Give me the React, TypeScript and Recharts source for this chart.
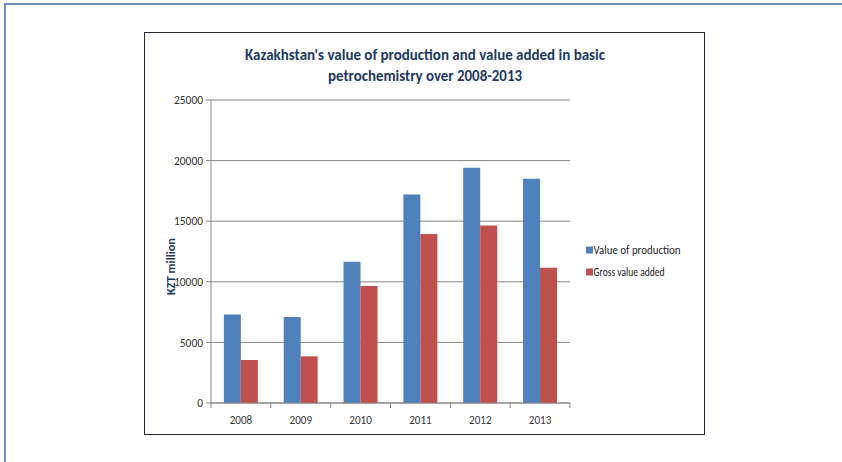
import React from 'react';
import { BarChart, Bar, XAxis, YAxis, CartesianGrid, Legend } from 'recharts';

const years = ['2008', '2009', '2010', '2011', '2012', '2013'];
const valueOfProduction = [7300, 7100, 11650, 17200, 19400, 18500];
const grossValueAdded = [3550, 3850, 9650, 13950, 14650, 11150];
const yTicks = [0, 5000, 10000, 15000, 20000, 25000];
const titleLines = ["Kazakhstan's value of production and value added in basic", 'petrochemistry over 2008-2013'];
const yAxisTitle = 'KZT million';
const seriesKeys = ['production', 'gva'];
const seriesNames = { production: 'Value of production', gva: 'Gross value added' };

const data = years.map((year, i) => ({
  year,
  production: valueOfProduction[i],
  gva: grossValueAdded[i],
}));

const FONT = "Carlito, Calibri, Lato, 'Liberation Sans', sans-serif";
const GRID = '#868686';
const NAVY = '#1F3864';
const BLUE = '#4F81BD';
const RED = '#C0504D';
const TICK_SIZE = 5;
const TICK_MARGIN = 7;

const XTick = (props: any) => {
  const { x, y, payload, index, visibleTicksCount, width } = props;
  const half = payload && payload.offset != null ? payload.offset : width / (2 * (visibleTicksCount || years.length));
  const axisY = y - TICK_SIZE - TICK_MARGIN;
  const last = index === (visibleTicksCount || years.length) - 1;
  return (
    <g>
      <line x1={x - half} x2={x - half} y1={axisY} y2={axisY + TICK_SIZE} stroke={GRID} />
      {last && <line x1={x + half} x2={x + half} y1={axisY} y2={axisY + TICK_SIZE} stroke={GRID} />}
      <text x={x} y={y} dy="0.71em" textAnchor="middle" fill="#333333" fontSize={12} fontFamily={FONT} textLength={22.5} lengthAdjust="spacingAndGlyphs">
        {payload.value}
      </text>
    </g>
  );
};

const YTick = (props: any) => {
  const { x, y, payload } = props;
  const s = String(payload.value);
  return (
    <text x={x} y={y} dy="0.355em" textAnchor="end" fill="#333333" fontSize={12} fontFamily={FONT} textLength={s.length * 5.8} lengthAdjust="spacingAndGlyphs">
      {s}
    </text>
  );
};

const YLabel = (props: any) => {
  const vb = props.viewBox || { x: 151, y: 100, width: 60, height: 303 };
  const cx = vb.x + 20;
  const cy = vb.y + vb.height / 2 + 15;
  return (
    <text
      x={cx}
      y={cy}
      transform={`rotate(-90, ${cx}, ${cy})`}
      textAnchor="middle"
      dominantBaseline="central"
      fill={NAVY}
      fontWeight="bold"
      fontSize={12}
      fontFamily={FONT}
      textLength={57}
      lengthAdjust="spacingAndGlyphs"
    >
      {yAxisTitle}
    </text>
  );
};

const LegendContent = (props: any) => {
  const raw = props.payload || [];
  const items = [...raw].sort((a: any, b: any) => seriesKeys.indexOf(a.dataKey) - seriesKeys.indexOf(b.dataKey));
  const widths: Record<string, number> = { production: 87, gva: 71 };
  return (
    <svg width={110} height={40} style={{ display: 'block' }}>
      {items.map((it: any, i: number) => (
        <g key={it.dataKey || i}>
          <rect x={2} y={6.5 + i * 22} width={7} height={7} fill={it.color} />
          <text
            x={9.5}
            y={10 + i * 22}
            dominantBaseline="central"
            fontSize={12}
            fontFamily={FONT}
            fill="#262626"
            textLength={widths[it.dataKey] || 80}
            lengthAdjust="spacingAndGlyphs"
          >
            {it.value}
          </text>
        </g>
      ))}
    </svg>
  );
};

export default function App() {
  return (
    <div style={{ position: 'relative', width: 842, height: 462, overflow: 'hidden', background: '#fff' }}>
      <style>{'body{margin:0}'}</style>
      <div style={{ position: 'absolute', left: 4, top: 3, width: 900, height: 600, border: '2px solid #7090c0', boxSizing: 'border-box' }} />
      <div style={{ position: 'absolute', left: 144, top: 32, width: 561, height: 403, border: '1.5px solid #23233a', boxSizing: 'border-box' }} />
      <div style={{ position: 'absolute', left: 0, top: 0 }}>
        <BarChart
          width={842}
          height={462}
          data={data}
          margin={{ top: 100, right: 272, bottom: 29, left: 151 }}
          barCategoryGap="21.5%"
          barGap={0}
        >
          <CartesianGrid vertical={false} stroke={GRID} strokeWidth={1} />
          <XAxis
            dataKey="year"
            height={30}
            axisLine={{ stroke: GRID }}
            tickLine={false}
            tickSize={TICK_SIZE}
            tickMargin={TICK_MARGIN}
            tick={<XTick />}
            interval={0}
          />
          <YAxis
            width={60}
            domain={[0, 25000]}
            ticks={yTicks}
            axisLine={{ stroke: GRID }}
            tickLine={{ stroke: GRID }}
            tickSize={5}
            tickMargin={3}
            tick={<YTick />}
            label={<YLabel />}
          />
          <Legend
            layout="horizontal"
            verticalAlign="middle"
            align="center"
            wrapperStyle={{ position: 'absolute', left: 584, top: 240, width: 110, height: 40 }}
            content={<LegendContent />}
          />
          <Bar dataKey="production" name={seriesNames.production} fill={BLUE} isAnimationActive={false} />
          <Bar dataKey="gva" name={seriesNames.gva} fill={RED} isAnimationActive={false} />
        </BarChart>
      </div>
      <svg width={842} height={462} style={{ position: 'absolute', left: 0, top: 0, pointerEvents: 'none' }}>
        <text x={425} y={59.5} textAnchor="middle" fontSize={16} fontWeight="bold" fontFamily={FONT} fill={NAVY} textLength={360} lengthAdjust="spacingAndGlyphs">
          {titleLines[0]}
        </text>
        <text x={425} y={81} textAnchor="middle" fontSize={16} fontWeight="bold" fontFamily={FONT} fill={NAVY} textLength={194} lengthAdjust="spacingAndGlyphs">
          {titleLines[1]}
        </text>
      </svg>
    </div>
  );
}
